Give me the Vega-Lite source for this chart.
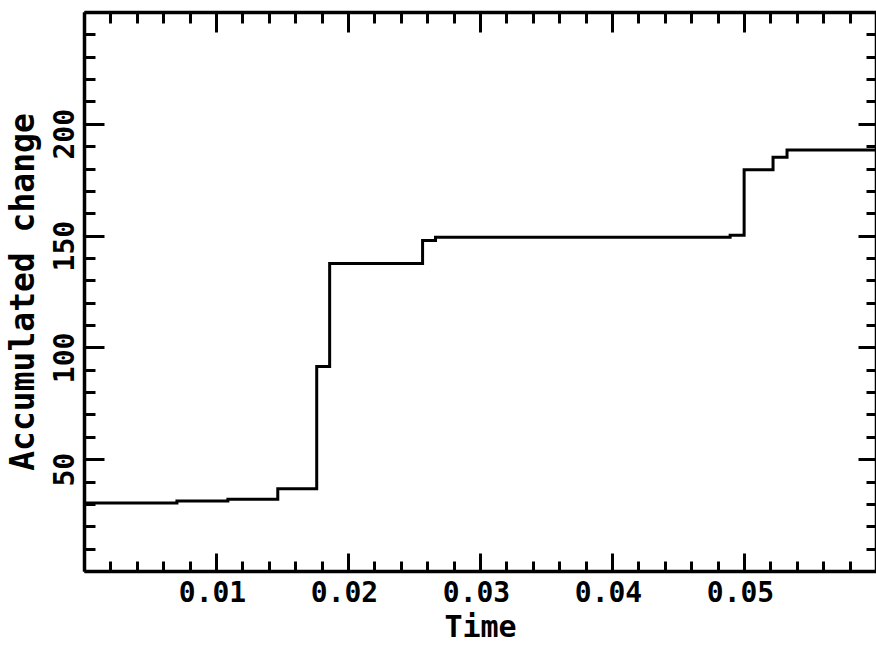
{
  "$schema": "https://vega.github.io/schema/vega-lite/v6.json",
  "autosize": {"type": "none"},
  "padding": {"left": 84, "top": 12, "right": 0, "bottom": 75},
  "width": 792,
  "height": 559,
  "background": "white",
  "config": {
    "view": {"stroke": null},
    "axis": {
      "domainColor": "black",
      "domainWidth": 3.5,
      "tickColor": "black",
      "tickWidth": 3,
      "labelColor": "black",
      "titleColor": "black",
      "labelFont": "DejaVu Sans Mono",
      "titleFont": "DejaVu Sans Mono",
      "labelFontWeight": "bold",
      "titleFontWeight": "bold",
      "labelFontSize": 28,
      "titleFontSize": 31,
      "labelOverlap": false,
      "labelFlush": false,
      "grid": false
    }
  },
  "data": {
    "values": [
      {"time": 0.0, "change": 30.4},
      {"time": 0.00704, "change": 31.3},
      {"time": 0.0109, "change": 32.1},
      {"time": 0.01468, "change": 36.8},
      {"time": 0.01763, "change": 91.5},
      {"time": 0.01861, "change": 137.5},
      {"time": 0.02565, "change": 147.8},
      {"time": 0.02663, "change": 149.3},
      {"time": 0.04895, "change": 150.2},
      {"time": 0.05001, "change": 179.5},
      {"time": 0.0522, "change": 185.0},
      {"time": 0.05326, "change": 188.3},
      {"time": 0.06, "change": 188.3}
    ]
  },
  "resolve": {"axis": {"x": "independent", "y": "independent"}},
  "layer": [
    {
      "mark": {"type": "line", "interpolate": "step-after", "color": "black", "strokeWidth": 3},
      "encoding": {
        "x": {
          "field": "time", "type": "quantitative",
          "scale": {"domain": [0, 0.06], "nice": false, "zero": false},
          "axis": {
            "orient": "bottom",
            "title": "Time",
            "titleFontSize": 30,
            "values": [0,0.002,0.004,0.006,0.008,0.01,0.012,0.014,0.016,0.018,0.02,0.022,0.024,0.026,0.028,0.03,0.032,0.034,0.036,0.038,0.04,0.042,0.044,0.046,0.048,0.05,0.052,0.054,0.056,0.058,0.06],
            "labelExpr": "(abs(datum.value*100 - round(datum.value*100)) < 0.001 && datum.value > 0.001 && datum.value < 0.059) ? format(datum.value, '.2f') : ''",
            "tickSize": {"condition": {"test": "abs(datum.value*100 - round(datum.value*100)) < 0.001", "value": -18}, "value": -10},
            "labelPadding": 26,
            "labelOffset": -4,
            "titlePadding": -3
          }
        },
        "y": {
          "field": "change", "type": "quantitative",
          "scale": {"domain": [0, 250], "nice": false, "zero": false},
          "axis": {
            "orient": "left",
            "title": "Accumulated change",
            "titleFontSize": 33,
            "values": [0,10,20,30,40,50,60,70,80,90,100,110,120,130,140,150,160,170,180,190,200,210,220,230,240,250],
            "labelExpr": "(datum.value % 50 === 0 && datum.value > 0 && datum.value < 250) ? datum.value : ''",
            "tickSize": {"condition": {"test": "datum.value % 50 === 0", "value": -20}, "value": -11},
            "labelAngle": -90,
            "labelPadding": 25,
            "labelOffset": 10,
            "titlePadding": 2
          }
        }
      }
    },
    {
      "mark": {"type": "line", "interpolate": "step-after", "opacity": 0},
      "encoding": {
        "x": {
          "field": "time", "type": "quantitative",
          "axis": {
            "orient": "top",
            "title": null,
            "labels": false,
            "values": [0,0.002,0.004,0.006,0.008,0.01,0.012,0.014,0.016,0.018,0.02,0.022,0.024,0.026,0.028,0.03,0.032,0.034,0.036,0.038,0.04,0.042,0.044,0.046,0.048,0.05,0.052,0.054,0.056,0.058,0.06],
            "tickSize": {"condition": {"test": "abs(datum.value*100 - round(datum.value*100)) < 0.001", "value": -20}, "value": -11}
          }
        },
        "y": {
          "field": "change", "type": "quantitative",
          "axis": {
            "orient": "right",
            "title": null,
            "labels": false,
            "values": [0,10,20,30,40,50,60,70,80,90,100,110,120,130,140,150,160,170,180,190,200,210,220,230,240,250],
            "tickSize": {"condition": {"test": "datum.value % 50 === 0", "value": -18}, "value": -10}
          }
        }
      }
    }
  ]
}
